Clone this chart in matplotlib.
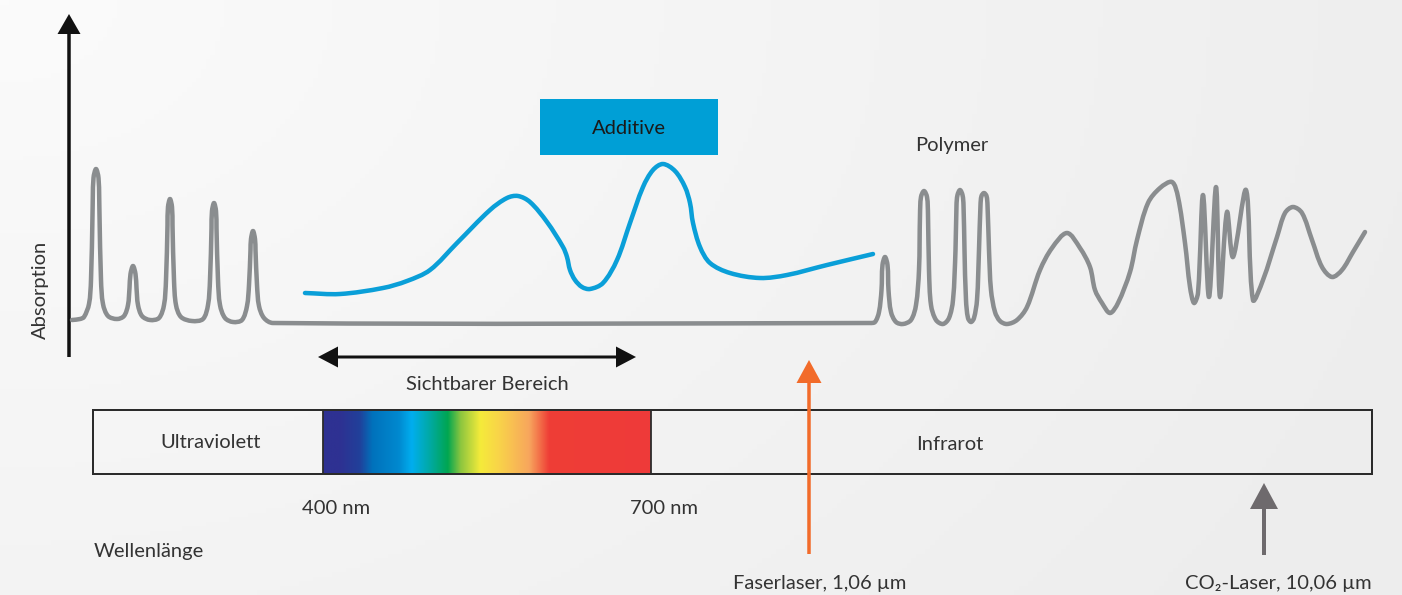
import numpy as np
import matplotlib
matplotlib.use("Agg")
import matplotlib.pyplot as plt
from matplotlib.path import Path
from matplotlib.patches import PathPatch, Rectangle, FancyArrow
from matplotlib.colors import LinearSegmentedColormap

plt.rcParams['font.family'] = ['Lato', 'DejaVu Sans']

# ---------------- data (pixel space) ----------------
polymer_x = [72, 80, 84, 89, 91, 92.5, 93.5, 96, 98.5, 99.5, 101, 103, 108, 117,
             124, 128, 129.5, 130.5, 133, 135.5, 136.5, 138, 142, 150,
             159, 164, 166, 167.5, 168, 170, 172, 172.5, 174, 176, 181, 192,
             203, 208, 210, 211.5, 212, 214, 216, 216.5, 218, 220, 225, 233,
             242, 247, 249, 250.5, 251, 253, 255, 255.5, 257, 259, 264, 273,
             870, 875, 879, 881.5, 882.5, 885, 887.5, 888.5, 891, 896, 903,
             911, 916, 919, 920, 921, 924, 927, 928, 929, 931, 936, 943,
             949, 953, 955.5, 956.5, 957.5, 960, 962.5, 963.5, 964.5, 966, 968, 971,
             974, 977, 979, 980.5, 981.5, 984, 986.5, 987.5, 989, 991, 995, 1000, 1007,
             1017, 1027, 1040, 1052, 1067, 1080, 1090, 1095, 1102, 1110, 1118, 1130,
             1137, 1148, 1160, 1172, 1178, 1185, 1190, 1194, 1198, 1203, 1209, 1216,
             1220, 1227, 1233, 1246, 1253, 1263, 1277, 1285, 1293, 1302, 1312, 1322,
             1332, 1342, 1353, 1365]
polymer_y = [320, 319, 317, 304, 280, 215, 178, 169, 178, 215, 280, 304, 316, 319,
             316, 305, 288, 274, 266, 274, 288, 305, 316, 320,
             318, 305, 280, 225, 207, 199, 207, 225, 280, 305, 317, 321,
             319, 305, 280, 228, 211, 203, 211, 228, 280, 305, 318, 322,
             320, 306, 285, 250, 239, 231, 239, 250, 285, 306, 318, 323,
             323, 322, 312, 290, 265, 257, 265, 290, 312, 322, 324,
             320, 305, 270, 215, 197, 191, 197, 215, 270, 305, 320, 324,
             318, 300, 250, 205, 195, 190, 195, 205, 250, 300, 318, 322,
             318, 300, 250, 205, 196, 193, 196, 205, 250, 290, 312, 321, 324,
             320, 307, 270, 248, 233, 248, 267, 290, 303, 313, 303, 272,
             240, 203, 188, 182, 197, 243, 287, 303, 293, 195, 297, 187,
             297, 212, 257, 190, 300, 280, 237, 213, 207, 213, 240, 267,
             277, 270, 252, 232]

additive_x = [305, 340, 383, 407, 430, 457, 490, 507, 518, 530, 547, 563, 567, 570,
              575, 582, 590, 603, 617, 630, 643, 653, 663, 675, 685, 690, 693, 700,
              710, 730, 760, 787, 827, 873]
additive_y = [293, 294, 288, 281, 270, 243, 210, 198, 196, 202, 222, 247, 257, 270,
              280, 287, 289, 283, 260, 223, 187, 170, 164, 171, 187, 203, 223, 247,
              263, 273, 278, 275, 265, 254]

spectrum_stops = [0.0, 0.05, 0.11, 0.15, 0.23, 0.27, 0.33, 0.38, 0.42, 0.48, 0.54, 0.63, 0.69, 1.0]
spectrum_colors = ['#2E3192', '#2E3192', '#21409A', '#0072BC', '#0089CF', '#00AEEF', '#00A99D',
                   '#00A651', '#8DC63F', '#F5EB3A', '#F9D24A', '#F7A55D', '#EF3E36', '#EE3A3A']

labels = {
    'additive': 'Additive', 'polymer': 'Polymer', 'visible': 'Sichtbarer Bereich',
    'uv': 'Ultraviolett', 'ir': 'Infrarot', 'nm400': '400 nm', 'nm700': '700 nm',
    'wl': 'Wellenlänge', 'fiber': 'Faserlaser, 1,06 µm', 'co2': 'CO₂-Laser, 10,06 µm',
    'abs': 'Absorption'}

W, H = 1402, 595
GRAY = '#8A8D8F'
BLUE = '#0A9FD8'
TXT = '#333333'


def smooth_path(xs, ys):
    """Smooth Bezier path through the given points (Catmull-Rom style)."""
    P = np.column_stack([xs, ys]).astype(float)
    n = len(P)
    d = np.hypot(*np.diff(P, axis=0).T)
    d[d == 0] = 1e-6
    m = np.zeros_like(P)
    m[0] = (P[1] - P[0]) / d[0]
    m[-1] = (P[-1] - P[-2]) / d[-1]
    for i in range(1, n - 1):
        m[i] = (P[i + 1] - P[i - 1]) / (d[i - 1] + d[i])
    verts = [P[0]]
    codes = [Path.MOVETO]
    for i in range(n - 1):
        verts += [P[i] + m[i] * d[i] / 3, P[i + 1] - m[i + 1] * d[i] / 3, P[i + 1]]
        codes += [Path.CURVE4] * 3
    return Path(verts, codes)


fig = plt.figure(figsize=(W / 100, H / 100), dpi=100)
ax = fig.add_axes([0, 0, 1, 1])
ax.set_xlim(0, W)
ax.set_ylim(H, 0)
ax.axis('off')

# background
gx, gy = np.meshgrid(np.linspace(0, 1, 300), np.linspace(0, 1, 130))
bg = np.clip(np.sqrt((gx * 1.0) ** 2 + (gy * 0.6) ** 2) / 1.1, 0, 1)
bgcm = LinearSegmentedColormap.from_list('bg', ['#FBFBFB', '#EDEDED'])
ax.imshow(bg, cmap=bgcm, extent=(0, W, H, 0), aspect='auto', zorder=0, vmin=0, vmax=1)

px = 0.72  # points per pixel

# y axis arrow
ax.add_patch(FancyArrow(69, 357, 0, -343, width=3.5, head_width=23, head_length=20,
                        length_includes_head=True, color='#111111', lw=0, zorder=3))

# curves
ax.add_patch(PathPatch(smooth_path(polymer_x, polymer_y), fill=False, edgecolor=GRAY,
                       lw=4.5 * px, capstyle='round', joinstyle='round', zorder=3))
ax.add_patch(PathPatch(smooth_path(additive_x, additive_y), fill=False, edgecolor=BLUE,
                       lw=4.5 * px, capstyle='round', joinstyle='round', zorder=4))

# Additive box
ax.add_patch(Rectangle((540, 99), 178, 56, facecolor='#009FD6', edgecolor='none', zorder=3))
ax.text(629, 128, labels['additive'], ha='center', va='center', fontsize=14.5, color='#1a1a1a', zorder=5)
ax.text(952, 146, labels['polymer'], ha='center', va='center', fontsize=14.5, color=TXT)

# visible range double arrow
for tip in (318, 636):
    ax.add_patch(FancyArrow(477, 357, tip - 477, 0, width=3, head_width=21, head_length=20,
                            length_includes_head=True, color='#111111', lw=0, zorder=3))
ax.text(487, 384, labels['visible'], ha='center', va='center', fontsize=14.5, color=TXT)

# spectrum bar
grad = np.linspace(0, 1, 512)[None, :]
speccm = LinearSegmentedColormap.from_list('spec', list(zip(spectrum_stops, spectrum_colors)))
ax.imshow(grad, cmap=speccm, extent=(323, 651, 474, 410), aspect='auto', zorder=2,
          interpolation='bilinear')
ax.add_patch(Rectangle((93, 410), 1279, 64, facecolor='none', edgecolor='#2b2b2b', lw=2 * px, zorder=3))
ax.plot([323, 323], [410, 474], color='#2b2b2b', lw=1.8 * px, zorder=3)
ax.plot([651, 651], [410, 474], color='#2b2b2b', lw=1.8 * px, zorder=3)

ax.text(211, 443, labels['uv'], ha='center', va='center', fontsize=14.5, color=TXT)
ax.text(950, 444, labels['ir'], ha='center', va='center', fontsize=14.5, color=TXT)
ax.text(336, 508, labels['nm400'], ha='center', va='center', fontsize=14.5, color=TXT)
ax.text(664, 509, labels['nm700'], ha='center', va='center', fontsize=14.5, color=TXT)
ax.text(94, 552, labels['wl'], ha='left', va='center', fontsize=14.5, color=TXT)

# laser arrows
ax.add_patch(FancyArrow(809, 554, 0, -194, width=3.5, head_width=25, head_length=23,
                        length_includes_head=True, color='#F26B2A', lw=0, zorder=5))
ax.add_patch(FancyArrow(1264, 555, 0, -72, width=4, head_width=28, head_length=26,
                        length_includes_head=True, color='#6E6A6D', lw=0, zorder=5))
ax.text(820, 583, labels['fiber'], ha='center', va='center', fontsize=14.5, color=TXT)
ax.text(1278, 583, labels['co2'], ha='center', va='center', fontsize=14.5, color=TXT)

ax.text(40, 290, labels['abs'], ha='center', va='center', rotation=90, fontsize=14.5, color=TXT)

fig.savefig('out.png', dpi=100)
